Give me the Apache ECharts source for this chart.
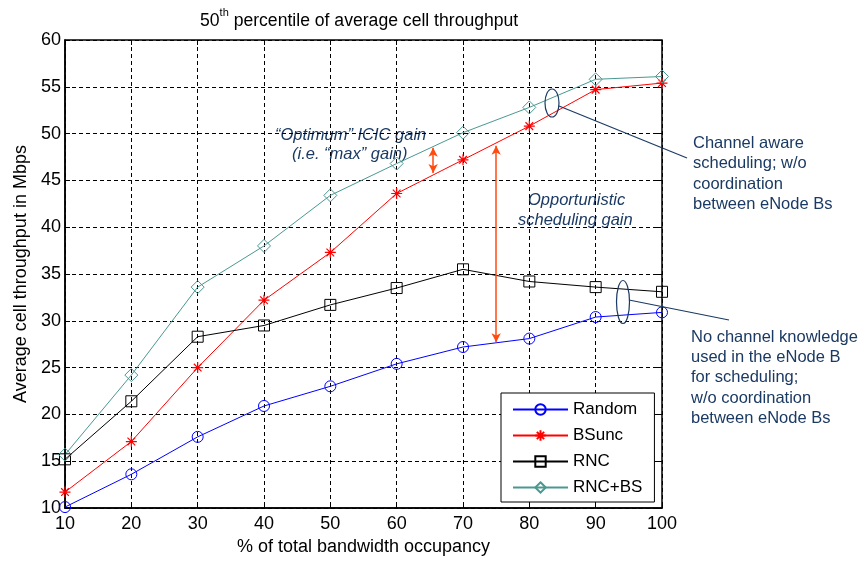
<!DOCTYPE html>
<html>
<head>
<meta charset="utf-8">
<script src="https://cdn.jsdelivr.net/npm/echarts@6/dist/echarts.min.js"></script>
<style>
  html, body { margin: 0; padding: 0; background: #fff; }
  #chart { width: 864px; height: 561px; }
</style>
</head>
<body>
<div id="chart"></div>
<script>
  // bandwidth occupancy, %
  const occupancy = [10, 20, 30, 40, 50, 60, 70, 80, 90, 100];
  // 50th percentile of average cell throughput, Mbps
  const random = [10.1, 13.6, 17.6, 20.9, 23.0, 25.4, 27.2, 28.1, 30.4, 30.9];
  const bsunc = [11.7, 17.1, 25.0, 32.2, 37.3, 43.6, 47.2, 50.8, 54.7, 55.4];
  const rnc = [15.2, 21.4, 28.3, 29.5, 31.7, 33.5, 35.5, 34.2, 33.6, 33.1];
  const rncbs = [15.7, 24.2, 33.6, 38.0, 43.4, 46.8, 50.1, 52.8, 55.8, 56.1];

  // gain arrows, [x, yFrom, yTo] in data units
  const icicArrow = [65.5, 48.5, 45.8];
  const oppArrow = [75, 48.7, 27.7];

  const font = 'Liberation Sans, Arial, sans-serif';
  const navy = '#1b3a63';
  const star = 'path://M0,-10L0,10M-10,0L10,0M-7,-7L7,7M-7,7L7,-7';

  function pairs(ys) {
    return occupancy.map(function(x, i) { return [x, ys[i]]; });
  }

  // matlab style: hollow markers, the line shows through them
  function lineSeries(name, ys, color, symbol, size) {
    return {
      name: name,
      type: 'line',
      data: pairs(ys),
      symbol: symbol,
      symbolSize: size,
      showAllSymbol: true,
      lineStyle: { color: color, width: 1 },
      itemStyle: { color: 'rgba(0,0,0,0)', borderColor: color, borderWidth: 1 },
      emphasis: { disabled: true },
      z: 3
    };
  }

  let chart = echarts.init(document.getElementById('chart'));

  let bsSeries = lineSeries('BSunc', bsunc, '#ff0000', star, 11);
  bsSeries.itemStyle.borderWidth = 1.2;

  let rncbsSeries = lineSeries('RNC+BS', rncbs, '#4a9892', 'diamond', 13);
  rncbsSeries.markLine = {
    silent: true,
    symbol: ['arrow', 'arrow'],
    symbolSize: [7, 9],
    label: { show: false },
    lineStyle: { color: '#ff4a10', width: 1.5, type: 'solid' },
    data: [
      [{ coord: [icicArrow[0], icicArrow[1]] }, { coord: [icicArrow[0], icicArrow[2]] }],
      [{ coord: [oppArrow[0], oppArrow[1]] }, { coord: [oppArrow[0], oppArrow[2]] }]
    ]
  };

  let option = {
    animation: false,
    backgroundColor: '#fff',
    title: {
      text: '{n|50}{s|th}{n| percentile of average cell throughput}',
      left: 200,
      top: 7,
      padding: 0,
      textStyle: {
        fontWeight: 'normal',
        rich: {
          n: { fontSize: 17.6, fontFamily: font, fontWeight: 'normal', color: '#000', lineHeight: 28 },
          s: { fontSize: 11, fontFamily: font, fontWeight: 'normal', color: '#000', lineHeight: 12, verticalAlign: 'top' }
        }
      }
    },
    grid: {
      left: 65, top: 40, width: 597, height: 468,
      show: true, borderColor: '#000', borderWidth: 1.5,
      containLabel: false
    },
    legend: {
      orient: 'vertical',
      left: 501,
      top: 393,
      padding: [8, 12, 6, 11],
      itemGap: 9,
      itemWidth: 55,
      itemHeight: 13,
      backgroundColor: '#fff',
      borderColor: '#000',
      borderWidth: 1,
      textStyle: { fontSize: 17, fontFamily: font, color: '#000' },
      data: ['Random', 'BSunc', 'RNC', 'RNC+BS']
    },
    xAxis: [{
      type: 'value', min: 10, max: 100, interval: 10,
      name: '% of total bandwidth occupancy',
      nameLocation: 'middle', nameGap: 30,
      nameTextStyle: { fontSize: 18, fontFamily: font, color: '#000' },
      axisLine: { lineStyle: { color: '#000', width: 1.5 } },
      axisTick: { inside: true, length: 5, lineStyle: { color: '#000' } },
      axisLabel: { fontSize: 18, fontFamily: font, color: '#000', margin: 7 },
      splitLine: { show: true, lineStyle: { color: '#000', type: [4, 3], width: 1 } }
    }, {
      type: 'value', min: 10, max: 100, interval: 10, position: 'top',
      axisLine: { show: false },
      axisTick: { inside: true, length: 5, lineStyle: { color: '#000' } },
      axisLabel: { show: false },
      splitLine: { show: false }
    }],
    yAxis: [{
      type: 'value', min: 10, max: 60, interval: 5,
      name: 'Average cell throughput in Mbps',
      nameLocation: 'middle', nameGap: 35,
      nameTextStyle: { fontSize: 18, fontFamily: font, color: '#000' },
      axisLine: { show: true, lineStyle: { color: '#000', width: 1.5 } },
      axisTick: { show: true, inside: true, length: 5, lineStyle: { color: '#000' } },
      axisLabel: { fontSize: 18, fontFamily: font, color: '#000', margin: 4 },
      splitLine: { show: true, lineStyle: { color: '#000', type: [4, 3], width: 1 } }
    }, {
      type: 'value', min: 10, max: 60, interval: 5, position: 'right',
      axisLine: { show: false },
      axisTick: { show: true, inside: true, length: 5, lineStyle: { color: '#000' } },
      axisLabel: { show: false },
      splitLine: { show: false }
    }],
    series: [
      lineSeries('Random', random, '#0000ff', 'circle', 11),
      bsSeries,
      lineSeries('RNC', rnc, '#000000', 'rect', 11),
      rncbsSeries
    ],
    graphic: [
      // text notes
      { type: 'text', left: 275, top: 127, style: { text: '\u201cOptimum\u201d ICIC gain', font: 'italic 16.5px ' + font, fill: navy } },
      { type: 'text', left: 292, top: 146, style: { text: '(i.e. \u201cmax\u201d gain)', font: 'italic 16.5px ' + font, fill: navy } },
      { type: 'text', left: 528, top: 192, style: { text: 'Opportunistic', font: 'italic 16.5px ' + font, fill: navy } },
      { type: 'text', left: 518, top: 212, style: { text: 'scheduling gain', font: 'italic 16.5px ' + font, fill: navy } },
      { type: 'text', left: 693, top: 133, style: { text: 'Channel aware\nscheduling; w/o\ncoordination\nbetween eNode Bs', font: '16.5px ' + font, fill: navy, lineHeight: 20.5 } },
      { type: 'text', left: 691, top: 327, style: { text: 'No channel knowledge\nused in the eNode B\nfor scheduling;\nw/o coordination\nbetween eNode Bs', font: '16.5px ' + font, fill: navy, lineHeight: 20.3 } },
      // callout ellipses and leaders
      { type: 'ellipse', shape: { cx: 552, cy: 103, rx: 7, ry: 14 }, style: { fill: 'none', stroke: navy, lineWidth: 1.2 }, z: 10 },
      { type: 'line', shape: { x1: 559, y1: 106, x2: 687, y2: 158 }, style: { stroke: navy, lineWidth: 1.2 }, z: 10 },
      { type: 'ellipse', shape: { cx: 623, cy: 302, rx: 6.5, ry: 21.5 }, style: { fill: 'none', stroke: navy, lineWidth: 1.2 }, z: 10 },
      { type: 'line', shape: { x1: 629, y1: 300, x2: 729, y2: 320 }, style: { stroke: navy, lineWidth: 1.2 }, z: 10 }
    ]
  };

  chart.setOption(option);
</script>
</body>
</html>
